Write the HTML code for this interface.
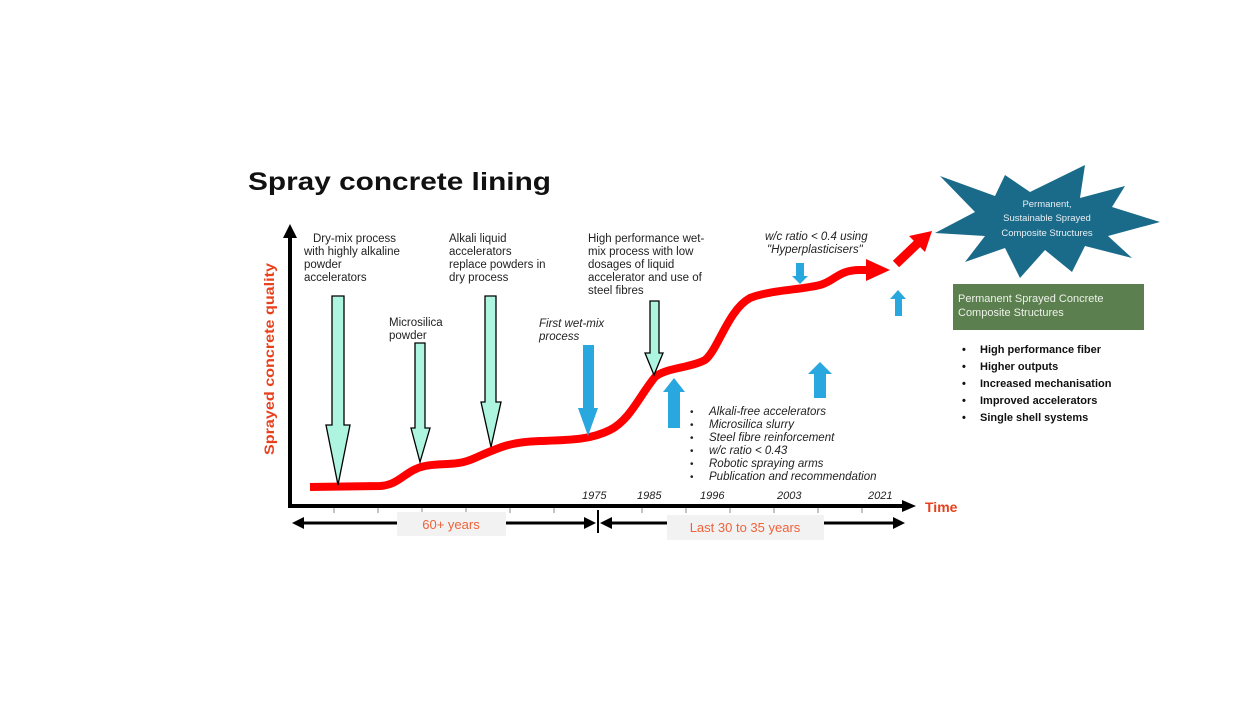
<!DOCTYPE html>
<html><head><style>
body{margin:0;background:#fff;}
svg{display:block;font-family:"Liberation Sans",sans-serif;}
</style></head><body>
<svg width="1260" height="720" viewBox="0 0 1260 720">
<text x="248" y="190" font-size="25" font-weight="bold" fill="#111" textLength="303" lengthAdjust="spacingAndGlyphs">Spray concrete lining</text>
<!-- axes -->
<line x1="290" y1="236" x2="290" y2="508" stroke="#000" stroke-width="4"/>
<polygon points="283,238 290,224 297,238" fill="#000"/>
<line x1="288" y1="506" x2="904" y2="506" stroke="#000" stroke-width="4"/>
<polygon points="902,500 916,506 902,512" fill="#000"/>
<g stroke="#888" stroke-width="1">
<line x1="334" y1="508" x2="334" y2="513"/><line x1="378" y1="508" x2="378" y2="513"/><line x1="422" y1="508" x2="422" y2="513"/><line x1="466" y1="508" x2="466" y2="513"/><line x1="510" y1="508" x2="510" y2="513"/><line x1="554" y1="508" x2="554" y2="513"/><line x1="642" y1="508" x2="642" y2="513"/><line x1="686" y1="508" x2="686" y2="513"/><line x1="730" y1="508" x2="730" y2="513"/><line x1="774" y1="508" x2="774" y2="513"/><line x1="818" y1="508" x2="818" y2="513"/><line x1="862" y1="508" x2="862" y2="513"/>
</g>
<text x="925" y="512" font-size="14" font-weight="bold" fill="#e8401c">Time</text>
<text transform="translate(274,455) rotate(-90)" font-size="14" font-weight="bold" fill="#e8401c" textLength="192" lengthAdjust="spacingAndGlyphs">Sprayed concrete quality</text>
<!-- years -->
<g font-size="11" font-style="italic" fill="#222">
<text x="582" y="499">1975</text><text x="637" y="499">1985</text><text x="700" y="499">1996</text><text x="777" y="499">2003</text><text x="868" y="499">2021</text>
</g>
<!-- range arrows -->
<line x1="298" y1="523" x2="590" y2="523" stroke="#000" stroke-width="3"/>
<polygon points="292,523 304,517 304,529" fill="#000"/>
<polygon points="596,523 584,517 584,529" fill="#000"/>
<line x1="598" y1="510" x2="598" y2="533" stroke="#000" stroke-width="2"/>
<line x1="606" y1="523" x2="898" y2="523" stroke="#000" stroke-width="3"/>
<polygon points="600,523 612,517 612,529" fill="#000"/>
<polygon points="905,523 893,517 893,529" fill="#000"/>
<rect x="397" y="512" width="109" height="24" fill="#f2f2f2"/>
<text x="451" y="529" font-size="13" fill="#f0623a" text-anchor="middle">60+ years</text>
<rect x="667" y="515" width="157" height="25" fill="#f2f2f2"/>
<text x="745" y="532" font-size="13" fill="#f0623a" text-anchor="middle">Last 30 to 35 years</text>
<!-- red curve -->
<path d="M310,487 L380,486 C400,485 405,470 425,466 C445,462 455,467 475,458 C500,447 510,442 540,441 C570,440 590,440 610,430 C630,420 640,395 655,377 C665,368 690,368 705,360 C718,350 728,310 750,298 C770,290 800,290 820,285 C835,281 838,270 860,270 L868,270" fill="none" stroke="#f00" stroke-width="8"/>
<polygon points="866,259 890,270 866,281" fill="#f00"/>
<line x1="896" y1="264" x2="918" y2="243" stroke="#f00" stroke-width="9"/>
<polygon points="909,236 932,231 925,252" fill="#f00"/>
<!-- mint arrows -->
<g fill="#adf5df" stroke="#000" stroke-width="1.3">
<polygon points="332,296 344,296 344,425 350,425 338,485 326,425 332,425"/>
<polygon points="415,343 425,343 425,428 430,428 420,462 411,428 415,428"/>
<polygon points="485,296 496,296 496,402 501,402 491,447 481,402 485,402"/>
<polygon points="650,301 659,301 659,353 663,353 654,375 645,353 650,353"/>
</g>
<!-- blue arrows -->
<g fill="#29a8e0">
<polygon points="583,345 594,345 594,408 598,408 588,436 578,408 583,408"/>
<polygon points="668,428 680,428 680,392 685,392 674,378 663,392 668,392"/>
<polygon points="796,263 804,263 804,276 808,276 800,284 792,276 796,276"/>
<polygon points="814,398 826,398 826,374 832,374 820,362 808,374 814,374"/>
<polygon points="895,316 902,316 902,299 906,299 898,290 890,299 895,299"/>
</g>
<!-- labels -->
<g font-size="11.5" fill="#222">
<text x="313" y="242">Dry-mix process</text>
<text x="304" y="255">with highly alkaline</text>
<text x="304" y="268">powder</text>
<text x="304" y="281">accelerators</text>
<text x="389" y="326">Microsilica</text>
<text x="389" y="339">powder</text>
<text x="449" y="242">Alkali liquid</text>
<text x="449" y="255">accelerators</text>
<text x="449" y="268">replace powders in</text>
<text x="449" y="281">dry process</text>
<text x="588" y="242">High performance wet-</text>
<text x="588" y="255">mix process with low</text>
<text x="588" y="268">dosages of  liquid</text>
<text x="588" y="281">accelerator and use of</text>
<text x="588" y="294">steel fibres</text>
</g>
<g font-size="11.5" fill="#222" font-style="italic">
<text x="539" y="327">First wet-mix</text>
<text x="539" y="340">process</text>
<text x="765" y="240">w/c ratio &lt; 0.4 using</text>
<text x="767" y="253">"Hyperplasticisers"</text>
<text x="709" y="415">Alkali-free accelerators</text>
<text x="709" y="428">Microsilica slurry</text>
<text x="709" y="441">Steel fibre reinforcement</text>
<text x="709" y="454">w/c ratio &lt; 0.43</text>
<text x="709" y="467">Robotic spraying arms</text>
<text x="709" y="480">Publication and recommendation</text>
</g>
<g font-size="10" fill="#222">
<text x="690" y="415">•</text><text x="690" y="428">•</text><text x="690" y="441">•</text><text x="690" y="454">•</text><text x="690" y="467">•</text><text x="690" y="480">•</text>
</g>
<!-- star -->
<polygon fill="#1a6b8a" points="940,176 995,196 1005,175 1030,192 1085,165 1080,198 1125,186 1112,207 1160,222 1108,236 1132,258 1085,246 1072,272 1045,250 1020,278 1005,248 965,262 985,236 935,233 975,212" />
<g font-size="9.5" fill="#e8eef2" text-anchor="middle">
<text x="1047" y="207">Permanent,</text>
<text x="1047" y="221">Sustainable Sprayed</text>
<text x="1047" y="236">Composite Structures</text>
</g>
<rect x="953" y="284" width="191" height="46" fill="#5b7f4e"/>
<text x="958" y="302" font-size="11" fill="#eef2ea">Permanent Sprayed Concrete</text>
<text x="958" y="316" font-size="11" fill="#eef2ea">Composite Structures</text>
<g font-size="11" font-weight="bold" fill="#111">
<text x="962" y="353">•</text><text x="980" y="353">High performance fiber</text>
<text x="962" y="370">•</text><text x="980" y="370">Higher outputs</text>
<text x="962" y="387">•</text><text x="980" y="387">Increased mechanisation</text>
<text x="962" y="404">•</text><text x="980" y="404">Improved accelerators</text>
<text x="962" y="421">•</text><text x="980" y="421">Single shell systems</text>
</g>
</svg>
</body></html>
